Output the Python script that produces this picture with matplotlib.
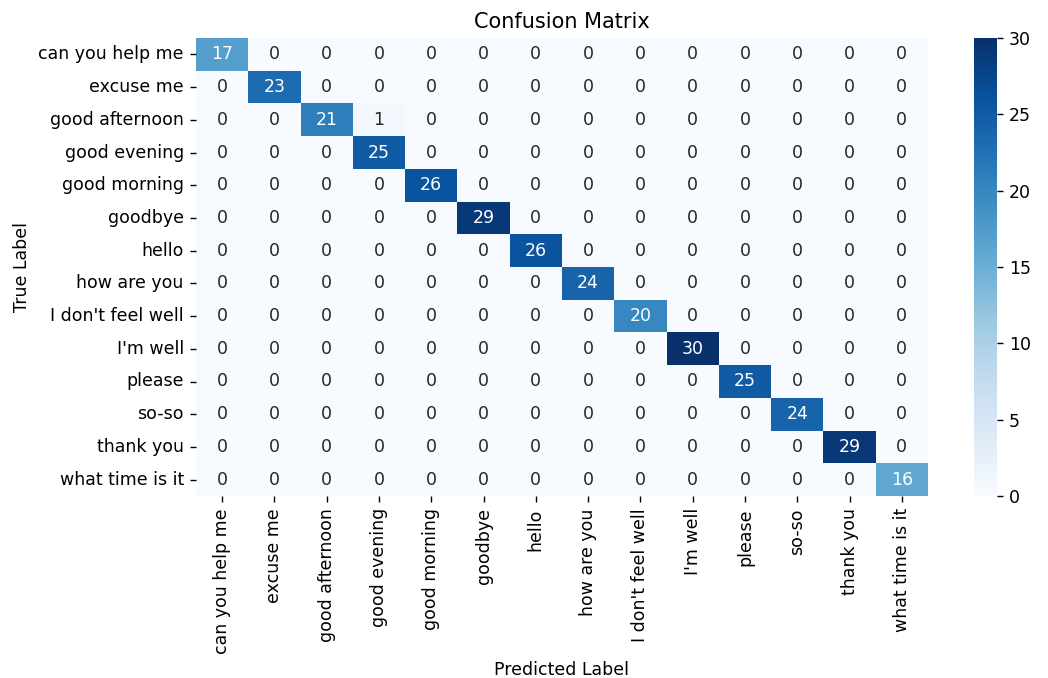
import numpy as np
import matplotlib
matplotlib.use("Agg")
import matplotlib.pyplot as plt
import seaborn as sns

labels = ["can you help me", "excuse me", "good afternoon", "good evening",
          "good morning", "goodbye", "hello", "how are you", "I don't feel well",
          "I'm well", "please", "so-so", "thank you", "what time is it"]
diag_values = [17, 23, 21, 25, 26, 29, 26, 24, 20, 30, 25, 24, 29, 16]
off_diag = [(2, 3, 1)]  # (true row, predicted col, count)

cm = np.diag(diag_values).astype(int)
for r, c, v in off_diag:
    cm[r, c] = v

s = 1.25
fig = plt.figure(figsize=(10.48, 6.78), dpi=100)
ax = fig.add_axes([196/1048, 1-496/678, (928-196)/1048, (496-38)/678])
cax = fig.add_axes([974/1048, 1-496/678, (997-974)/1048, (496-38)/678])

sns.heatmap(cm, annot=True, fmt="d", cmap="Blues", ax=ax, cbar_ax=cax,
            xticklabels=labels, yticklabels=labels,
            annot_kws={"fontsize": 10*s})
ax.set_title("Confusion Matrix", fontsize=12*s, pad=6*s)
ax.set_xlabel("Predicted Label", fontsize=10*s, labelpad=4*s)
ax.set_ylabel("True Label", fontsize=10*s, labelpad=4*s)
ax.tick_params(axis="both", labelsize=10*s, length=3.5*s, width=0.8*s, pad=3.5*s)
plt.setp(ax.get_xticklabels(), rotation=90)
plt.setp(ax.get_yticklabels(), rotation=0)
cax.tick_params(labelsize=10*s, length=3.5*s, width=0.8*s, pad=3.5*s)

fig.savefig("out.png", dpi=100)
